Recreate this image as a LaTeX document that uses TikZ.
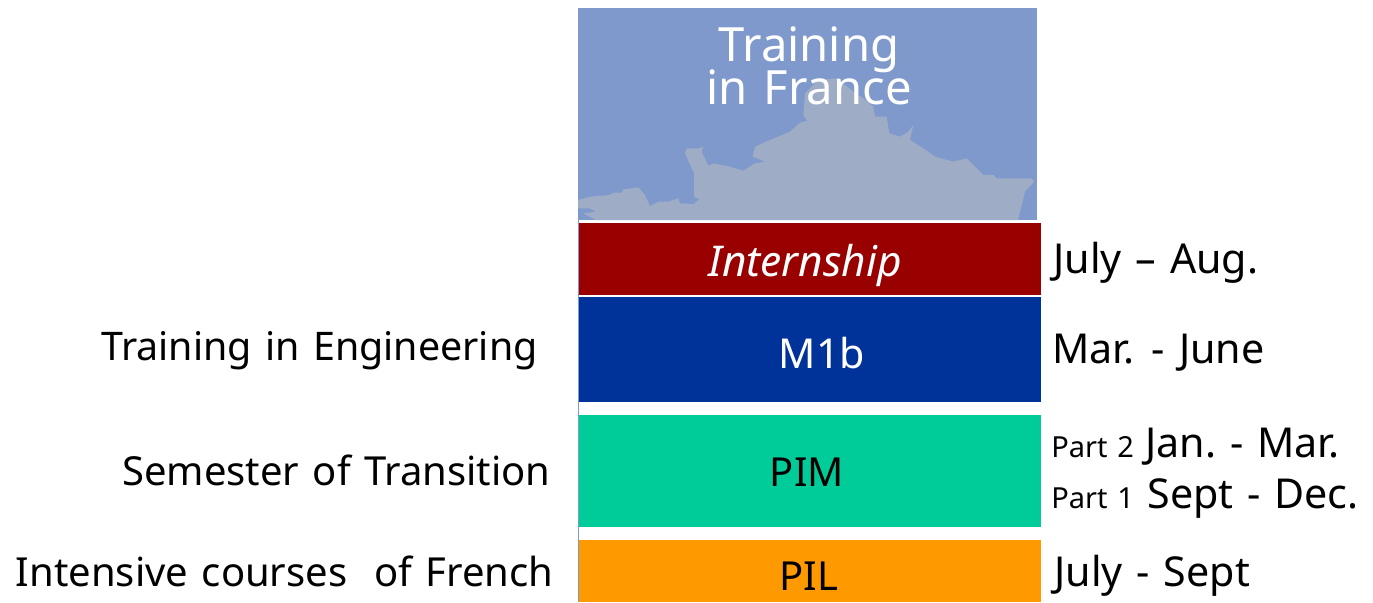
\documentclass[tikz,border=0pt]{standalone}
\usepackage{fontspec}
\setmainfont{Noto Sans}[WordSpace=1.3]
\definecolor{skyblue}{HTML}{7F99CC}
\definecolor{mapgrey}{HTML}{9FACC5}
\definecolor{internred}{HTML}{990000}
\definecolor{moneblue}{HTML}{003399}
\definecolor{pimgreen}{HTML}{00CC99}
\definecolor{pilorange}{HTML}{FF9900}
\tikzset{
    box/.style={inner sep=0pt,outer sep=0pt,minimum width=231pt},
    lab/.style={font=\fontsize{20}{24}\selectfont,inner sep=0pt},
    date/.style={font=\fontsize{20.6}{24}\selectfont,inner sep=0pt,anchor=west},
    small/.style={font=\fontsize{14.5}{18}\selectfont,inner sep=0pt,anchor=west}
}
\begin{document}
\begin{tikzpicture}[x=0.5pt,y=-0.5pt]
    \useasboundingbox (0,0) rectangle (1373,602);
    \node[box,fill=skyblue,minimum width=229.5pt,minimum height=106pt] (sky) at (807.5,114) {};
    % coast
    \begin{scope}[shift={(570,0)},x=0.16667pt,y=-0.16667pt]
        \fill[mapgrey] (24,600) -- (60,590) -- (120,585) -- (130,578) -- (155,578) -- (160,568) -- (205,562) -- (225,585) -- (240,618) -- (265,605) -- (295,605) -- (325,595) -- (330,610) -- (370,612) -- (388,598) -- (372,590) -- (372,520) -- (345,460) -- (350,445) -- (385,445) -- (400,440) -- (395,455) -- (415,497) -- (430,490) -- (480,500) -- (520,512) -- (555,490) -- (585,485) -- (548,470) -- (555,440) -- (600,420) -- (660,395) -- (690,368) -- (712,362) -- (700,345) -- (705,280) -- (745,240) -- (800,235) -- (850,275) -- (880,295) -- (910,320) -- (915,350) -- (950,350) -- (958,400) -- (990,410) -- (1015,395) -- (1030,375) -- (1020,420) -- (1060,445) -- (1095,470) -- (1150,485) -- (1190,475) -- (1240,525) -- (1270,525) -- (1280,535) -- (1385,535) -- (1392,545) -- (1365,575) -- (1345,655) -- (1345,660) -- (78,660) -- (40,640) -- (78,635) -- (60,625) -- (24,625) -- cycle;
    \end{scope}
    \node[box,fill=internred,minimum height=36pt] (intern) at (810,259) {};
    \node[box,fill=moneblue,minimum height=52.5pt] (mone) at (810,349.5) {};
    \node[box,fill=pimgreen,minimum height=56pt] (pim) at (810,471) {};
    \node[box,fill=pilorange,minimum height=31pt] (pil) at (810,571) {};
    \draw[skyblue,line width=0.5pt] (sky.south west) -- (578,602);

    \node[lab,white,font=\fontsize{23.6}{21}\selectfont,align=center] (france) at (809,66) {Training\\[-2.5pt]in France};
    \node[lab,white,font=\fontsize{21.2}{24}\selectfont\itshape] (interntxt) at (805,265) {Internship};
    \node[lab,white,font=\fontsize{20.6}{24}\selectfont] (monetxt) at (822,353) {M1b};
    \node[lab] (pimtxt) at (807,472) {PIM};
    \node[lab] (piltxt) at (809,576) {PIL};

    \node[lab,anchor=east,font=\fontsize{19.7}{24}\selectfont] (eng) at (538,351) {Training in Engineering};
    \node[lab,anchor=east] (trans) at (551,470) {Semester of Transition};
    \node[lab,anchor=east] (french) at (554,571) {Intensive courses\ \ of French};

    \node[date] (julaug) at (1053,263) {July – Aug.};
    \node[date] (marjun) at (1052,353) {Mar. - June};
    \node[small] (parttwo) at (1051,447) {Part 2};
    \node[date] (janmar) at (1145,447) {Jan.\ - Mar.};
    \node[small] (partone) at (1051,498) {Part 1};
    \node[date] (sepdec) at (1147,499) {Sept - Dec.};
    \node[date] (julsep) at (1054,576) {July - Sept};
\end{tikzpicture}
\end{document}
